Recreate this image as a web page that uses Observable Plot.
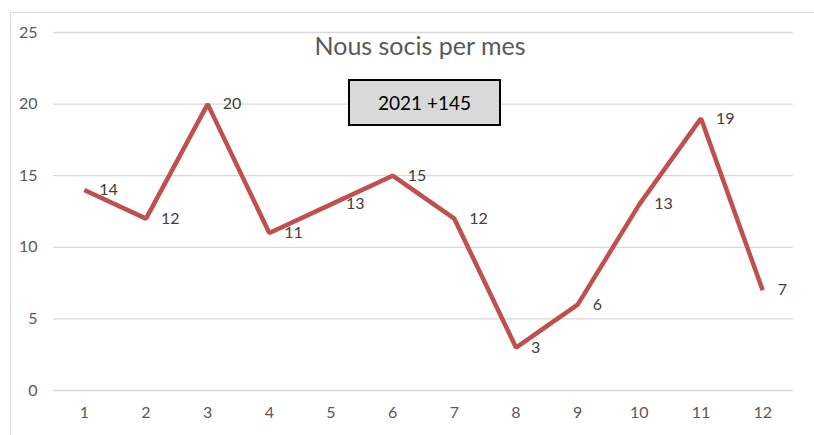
<!DOCTYPE html>
<html><head><meta charset="utf-8">
<script src="https://cdn.jsdelivr.net/npm/d3@7"></script>
<script src="https://cdn.jsdelivr.net/npm/@observablehq/plot@0.6"></script>
<style>
html,body{margin:0;padding:0;background:#fff;overflow:hidden;width:814px;height:435px;}
#wrap{position:relative;width:814px;height:435px;font-family:Lato,"Open Sans",sans-serif;}
#frame{position:absolute;left:10px;top:12px;width:900px;height:500px;border:1px solid #d9d9d9;box-sizing:border-box;}
#chart{position:absolute;left:0;top:0;}
#title{position:absolute;left:0;width:840px;top:30px;text-align:center;font-size:25px;color:#595959;}
#box{position:absolute;left:348px;top:79px;width:153px;height:47px;box-sizing:border-box;border:2px solid #000;background:#d9d9d9;text-align:center;line-height:43px;font-size:19px;color:#000;}
</style></head>
<body><div id="wrap"><div id="frame"></div><div id="chart"></div><div id="title"></div><div id="box"></div></div>
<script>
const months = [1,2,3,4,5,6,7,8,9,10,11,12];
const members = [14,12,20,11,13,15,12,3,6,13,19,7];
const yTicks = [0,5,10,15,20,25];
const titleText = "Nous socis per mes";
const boxText = "2021 +145";

const data = months.map((m,i)=>({month:m, value:members[i]}));
const chart = Plot.plot({
  width:814, height:435,
  marginTop:32, marginBottom:45, marginLeft:53, marginRight:21,
  style:{fontFamily:'Lato,"Open Sans",sans-serif', background:"transparent"},
  x:{domain:[0.5,12.5], ticks:months, tickFormat:d=>String(d), label:null},
  y:{domain:[0,25], ticks:yTicks, label:null},
  marks:[
    Plot.gridY(yTicks,{stroke:"#d9d9d9", strokeOpacity:1, strokeWidth:1.3}),
    Plot.axisY(yTicks,{tickSize:0, tickPadding:16, fontSize:16, fill:"#595959"}),
    Plot.axisX(months,{tickSize:0, tickPadding:16, fontSize:16, fill:"#595959"}),
    Plot.line(data,{x:"month", y:"value", stroke:"#c0504d", strokeWidth:4.5, strokeLinejoin:"miter", strokeLinecap:"butt"}),
    Plot.text(data,{x:"month", y:"value", text:d=>String(d.value), textAnchor:"start", dx:15, fontSize:16, fill:"#404040"})
  ]
});
document.getElementById("chart").appendChild(chart);
document.getElementById("title").textContent = titleText;
document.getElementById("box").textContent = boxText;
</script></body></html>
